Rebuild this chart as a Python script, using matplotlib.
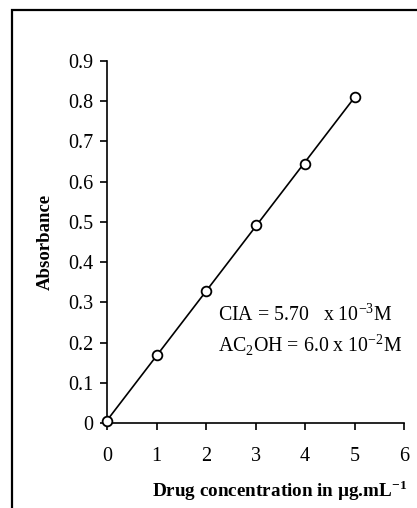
import numpy as np
import matplotlib
matplotlib.use("Agg")
import matplotlib.pyplot as plt
from matplotlib.patches import Rectangle

plt.rcParams['font.family'] = ['Liberation Serif', 'DejaVu Serif']
plt.rcParams['mathtext.fontset'] = 'custom'
plt.rcParams['mathtext.rm'] = 'Liberation Serif'
plt.rcParams['mathtext.bf'] = 'Liberation Serif:bold'

# Données
conc = [0, 1, 2, 3, 4, 5]
absorbance = [0.005, 0.168, 0.327, 0.492, 0.645, 0.810]
x_ticks = [0, 1, 2, 3, 4, 5, 6]
y_ticks = [0, 0.1, 0.2, 0.3, 0.4, 0.5, 0.6, 0.7, 0.8, 0.9]

W, H = 417, 508
fig = plt.figure(figsize=(W / 100, H / 100), dpi=100)
ax = fig.add_axes([107 / W, 1 - 423 / H, (404 - 107) / W, (423 - 61) / H])

# droite de régression
slope, icpt = np.polyfit(conc, absorbance, 1)
xf = np.array([conc[0], conc[-1]])
ax.plot(xf, slope * xf + icpt, color='black', linewidth=1.2, zorder=2)
ax.plot(conc, absorbance, linestyle='none', marker='o', markersize=7,
        markerfacecolor='white', markeredgecolor='black', markeredgewidth=1.3,
        zorder=3, clip_on=False)

ax.set_xlim(0, 6)
ax.set_ylim(0, 0.9)
ax.set_xticks(x_ticks)
ax.set_xticklabels([str(v) for v in x_ticks])
ax.set_yticks(y_ticks)
ax.set_yticklabels(['0'] + [f'{v:.1f}' for v in y_ticks[1:]])
ax.tick_params(direction='out', length=5, width=1.2, labelsize=14.5, pad=5)
ax.tick_params(axis='x', pad=12)
for s in ['top', 'right']:
    ax.spines[s].set_visible(False)
for s in ['left', 'bottom']:
    ax.spines[s].set_linewidth(1.2)

ax.set_ylabel('Absorbance', fontsize=13.5, fontweight='bold', va='center')
ax.yaxis.set_label_coords((45 - 107) / 297, 0.5)
ax.set_xlabel(r'Drug concentration in µg.mL$^{\mathbf{-1}}$', fontsize=13.8,
              fontweight='bold', va='center')
ax.xaxis.set_label_coords((280 - 107) / 297, (423 - 491) / 362)

ax.text(218 / W, 1 - 315 / H, r'CIA = 5.70   x 10$^{-3}$M', transform=fig.transFigure,
        fontsize=14.3, va='center', ha='left')
ax.text(218 / W, 1 - 345 / H, r'AC$_{2}$OH = 6.0 x 10$^{-2}$M', transform=fig.transFigure,
        fontsize=14.3, va='center', ha='left')

# cadre extérieur
fig.patches.append(Rectangle((12 / W, -0.1), 1.2, 1.1 - 10 / H, transform=fig.transFigure,
                             fill=False, edgecolor='black', linewidth=1.6))

fig.savefig('out.png', dpi=100)
